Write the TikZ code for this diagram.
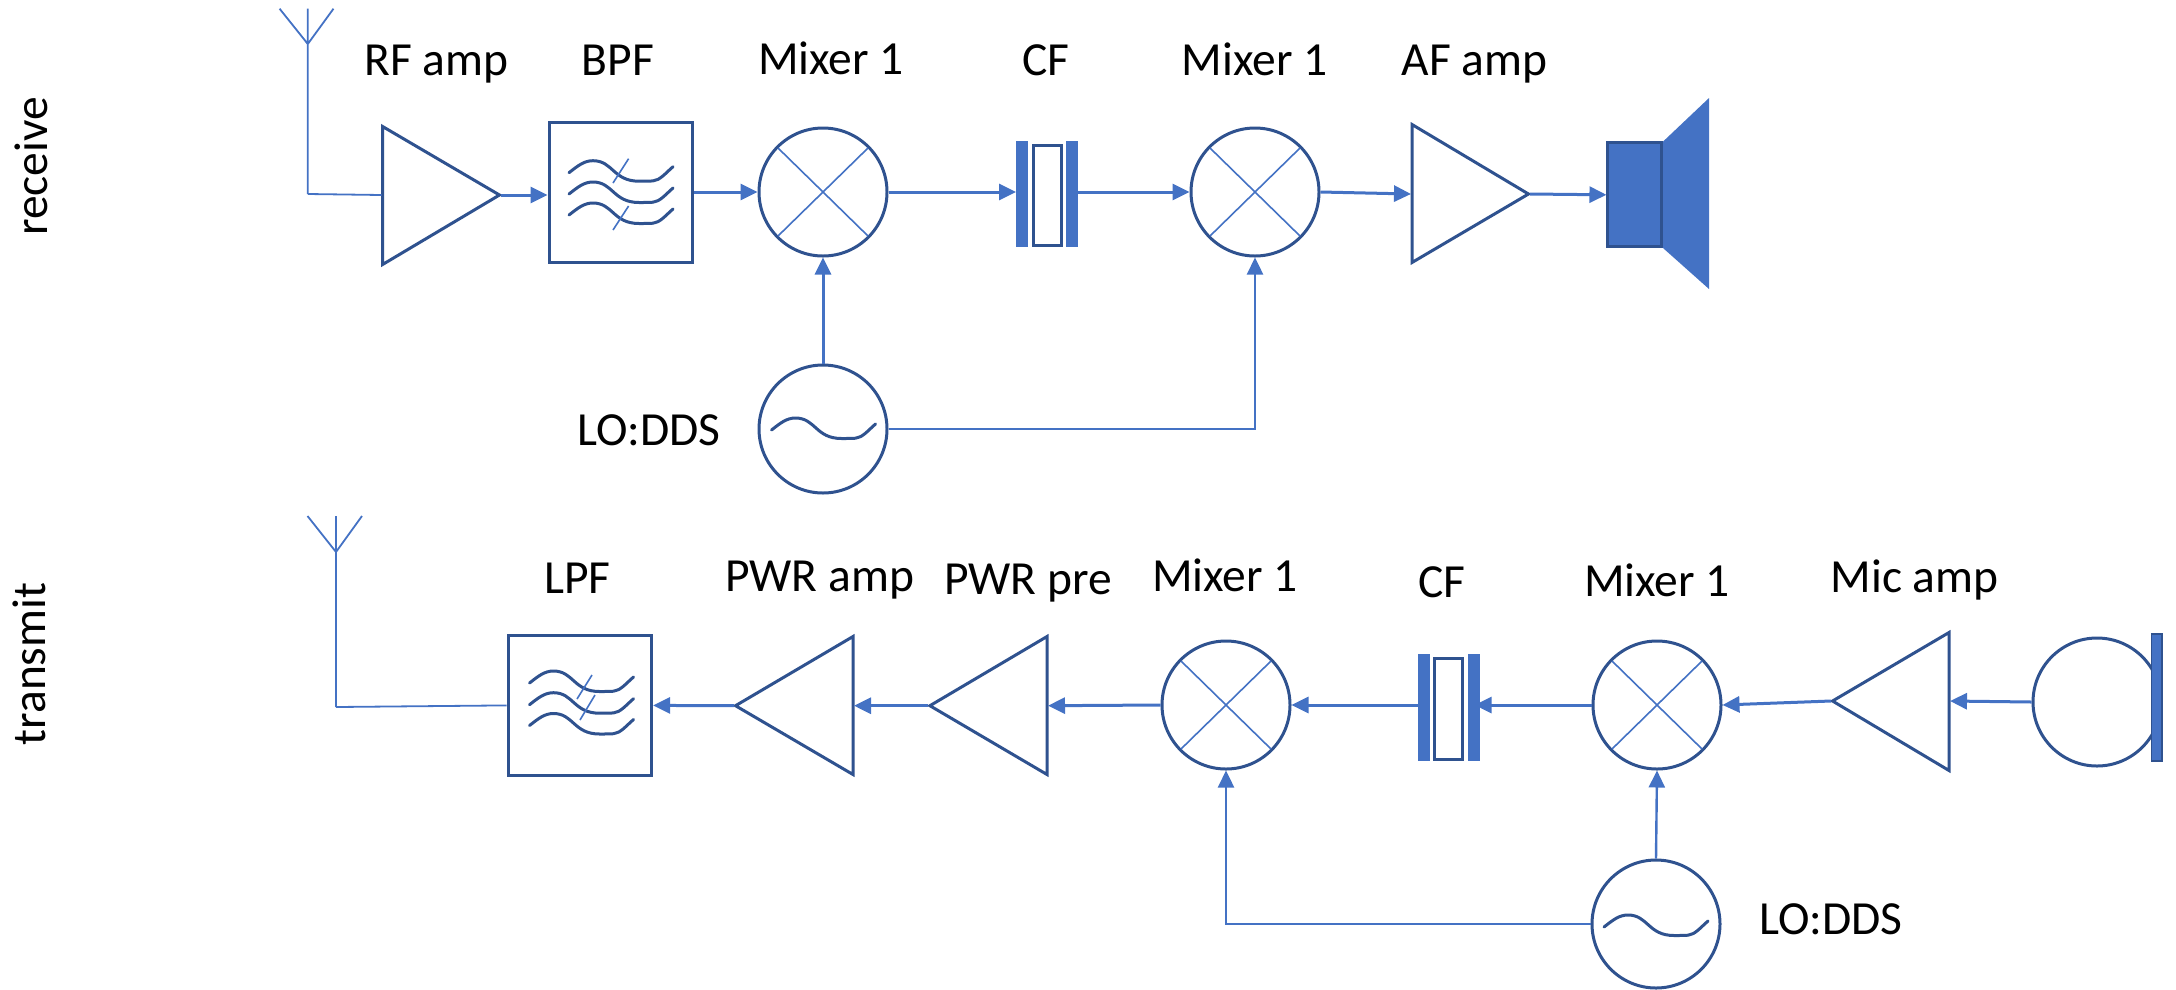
\documentclass[tikz,border=0pt]{standalone}
\usepackage{fontspec}
\setmainfont{Carlito}
\usetikzlibrary{arrows.meta}
\definecolor{lineblue}{HTML}{4472C4}
\definecolor{darkblue}{HTML}{2F528F}
\tikzset{
  x=1pt,y=-1pt,
  thinline/.style={draw=lineblue,line width=1.6pt},
  sig/.style={draw=lineblue,line width=3pt,-{Triangle[length=17pt,width=16pt]}},
  lo/.style={draw=lineblue,line width=2.4pt,-{Triangle[length=17pt,width=16pt]}},
  feed/.style={draw=lineblue,line width=1.8pt},
  outline/.style={draw=darkblue,line width=3pt,line join=miter,fill=white},
  wavy/.style={draw=darkblue,line width=3pt,line cap=round,line join=round},
  disc/.style={circle,outline,minimum size=128pt,inner sep=0pt},
  filterbox/.style={rectangle,outline,inner sep=0pt},
  plate/.style={fill=lineblue,draw=none},
  label/.style={anchor=base,font=\fontsize{47.5}{47.5}\selectfont,text=black,inner sep=0pt},
  crossline/.style={draw=lineblue,line width=1.6pt}
}
\newcommand{\wavepath}[2]{\draw[wavy,shift={(#1,#2)}] (0,0) .. controls (9,-7) and (15,-12) .. (24,-12) .. controls (44,-12) and (44,8.5) .. (70,8.5) .. controls (76,8.5) and (80,8.5) .. (84,8.2) .. controls (91,7.5) and (96,1) .. (104,-6);}
\newcommand{\mixercross}[1]{\draw[crossline] ([shift={(-45,-44)}]#1.center) -- ([shift={(45,44)}]#1.center) ([shift={(-45,44)}]#1.center) -- ([shift={(45,-44)}]#1.center);}
\newcommand{\ampright}[6]{% name, leftx, topy, bottomy, tipx, tipy
  \draw[outline] (#2+1,#3+1.5) -- (#5-1.5,#6) -- (#2+1,#4-1.5) -- cycle;
  \coordinate (#1-in) at (#2,#6);
  \coordinate (#1-out) at (#5,#6);}
\newcommand{\ampleft}[6]{% name, rightx, topy, bottomy, tipx, tipy
  \draw[outline] (#2-1,#3+1.5) -- (#5+1.5,#6) -- (#2-1,#4-1.5) -- cycle;
  \coordinate (#1-in) at (#2,#6);
  \coordinate (#1-out) at (#5,#6);}
\newcommand{\crystal}[5]{% name, left x, top y, bottom y, line y
  \fill[plate] (#2,#3) rectangle ++(12,#4-#3);
  \draw[outline] (#2+17,#3+4.5) rectangle (#2+45,#4-1.5);
  \fill[plate] (#2+50,#3) rectangle ++(12,#4-#3);
  \coordinate (#1-l) at (#2,#5);
  \coordinate (#1-r) at (#2+62,#5);}
\begin{document}
\begin{tikzpicture}
\useasboundingbox (0,0) rectangle (2176,989);
% ---------- receive
\node[rotate=90,label] (rxlabel) at (47,166.5) {receive};
% antenna
\coordinate (rxfork) at (307.8,44);
\coordinate (rxtop) at (307.8,8.7);
\coordinate (rxtl) at (279.6,8.7);
\coordinate (rxtr) at (333.5,8.7);
\coordinate (rxbot) at (307.8,194);
\draw[feed,line join=miter] (rxtl) -- (rxfork) -- (rxtr) (rxtop) -- (rxbot);
\ampright{rfamp}{381.6}{125}{266}{501}{195}
\draw[feed] (rxbot) -- (rfamp-in);
\node[filterbox,minimum width=143pt,minimum height=139.5pt] (bpf) at (620.5,192.4) {};
\wavepath{569}{172.7}\wavepath{569}{194}\wavepath{569}{215}
\draw[crossline] (613,183) -- (628.6,158.7) (613,230) -- (628.6,206);
\node[disc] (mix1) at (823,192) {};\mixercross{mix1}
\crystal{cf1}{1016}{140.7}{247.3}{192}
\node[disc] (mix2) at (1255,192) {};\mixercross{mix2}
\ampright{afamp}{1411}{123}{264}{1530}{194}
\draw[plate] (1661.5,143) -- (1709,98) -- (1709,289) -- (1661.5,246.7) -- cycle;
\node[rectangle,draw=darkblue,line width=3pt,fill=lineblue,minimum width=53.5pt,minimum height=103.7pt,inner sep=0pt] (spk) at (1634.7,194.8) {};
\node[disc] (lo1) at (823,429) {};
\wavepath{771.5}{430}
\draw[sig] (rfamp-out) -- (bpf.west |- rfamp-out);
\draw[sig] (bpf.east |- mix1.west) -- (mix1.west);
\draw[sig] (mix1.east) -- (cf1-l);
\draw[sig] (cf1-r) -- (mix2.west);
\draw[sig] (mix2.east) -- (afamp-in);
\draw[sig] (afamp-out) -- (spk.west);
\draw[sig] (lo1.north) -- (mix1.south);
\draw[lo] (lo1.east) -| (mix2.south);
% labels
\node[label] (l1) at (436.5,75) {RF amp};
\node[label] (l2) at (618,75) {BPF};
\node[label] (l3) at (831,74) {Mixer 1};
\node[label] (l4) at (1046,75) {CF};
\node[label] (l5) at (1254.6,75) {Mixer 1};
\node[label] (l6) at (1474.5,75) {AF amp};
\node[label] (l7) at (649,445) {LO:DDS};
% ---------- transmit
\node[rotate=90,label] (txlabel) at (45,664) {transmit};
\coordinate (txfork) at (336,552);
\coordinate (txtop) at (336,516);
\coordinate (txtl) at (307.5,516);
\coordinate (txtr) at (362,516);
\coordinate (txbot) at (336,707);
\draw[feed,line join=miter] (txtl) -- (txfork) -- (txtr) (txtop) -- (txbot);
\node[filterbox,minimum width=143.6pt,minimum height=139.3pt] (lpf) at (579.8,705.4) {};
\wavepath{529.5}{683}\wavepath{529.5}{704.7}\wavepath{529.5}{725.5}
\draw[crossline] (577,699) -- (592,675) (580,720) -- (595,695);
\draw[feed] (txbot) -- (lpf.west);
\ampleft{pwramp}{854}{635}{776}{734}{705.7}
\ampleft{pwrpre}{1048}{635}{776}{928.4}{705.7}
\node[disc] (mix3) at (1226,705) {};\mixercross{mix3}
\crystal{cf2}{1417.6}{654}{760.7}{705}
\node[disc] (mix4) at (1657,705) {};\mixercross{mix4}
\ampleft{micamp}{1950}{631}{772}{1831}{701}
\node[disc] (mic) at (2097,702) {};
\node[rectangle,draw=darkblue,line width=1.5pt,fill=lineblue,minimum width=10.5pt,minimum height=127pt,inner sep=0pt] (micplate) at (2156.5,697.5) {};
\node[disc] (lo2) at (1656,924) {};
\wavepath{1604}{927}
\draw[sig] (pwramp-out) -- (lpf.east);
\draw[sig] (pwrpre-out) -- (pwramp-in);
\draw[sig] (mix3.west) -- (pwrpre-in);
\draw[sig] (cf2-l) -- (mix3.east);
\draw[sig] (mix4.west) -- ([xshift=-5]cf2-r);
\draw[sig] (micamp-out) -- (mix4.east);
\draw[sig] (mic.west) -- (micamp-in);
\draw[lo] (lo2.north) -- (mix4.south);
\draw[lo] (lo2.west) -| (mix3.south);
\node[label] (l8) at (577.5,593) {LPF};
\node[label] (l9) at (819.5,591) {PWR amp};
\node[label] (l10) at (1028,594) {PWR pre};
\node[label] (l11) at (1225,591) {Mixer 1};
\node[label] (l12) at (1442,597) {CF};
\node[label] (l13) at (1657,596) {Mixer 1};
\node[label] (l14) at (1914.5,592) {Mic amp};
\node[label] (l15) at (1831,934) {LO:DDS};
\end{tikzpicture}
\end{document}
